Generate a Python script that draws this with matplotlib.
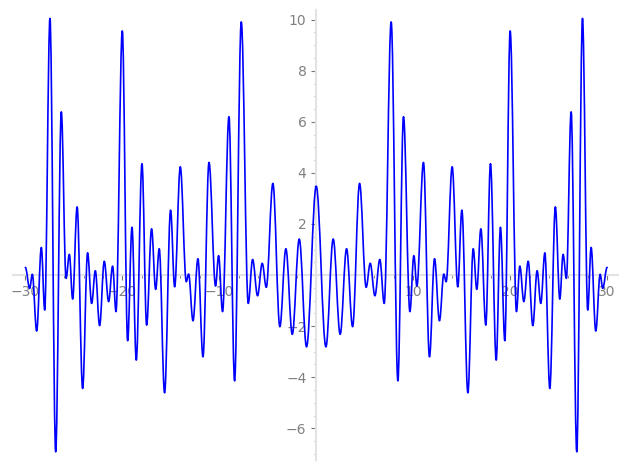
import numpy as np
import matplotlib
matplotlib.use("Agg")
import matplotlib.pyplot as plt
from matplotlib.path import Path
from matplotlib.patches import PathPatch
from matplotlib.ticker import MultipleLocator, FuncFormatter

# the curve is symmetric about x = 0
x_right = [0.0, 1.0, 1.75, 2.47, 3.13, 3.75, 4.47,
           5.15, 5.57, 6.05, 6.56, 7.01, 7.73, 8.42, 9.0, 9.66, 10.07,
           10.38, 11.06, 11.68, 12.2, 12.71, 13.16, 13.4, 14.02, 14.6, 15.02,
           15.64, 16.19, 16.56, 16.98, 17.49, 17.97, 18.56, 19.0, 19.45, 20.0,
           20.65, 21.0, 21.41, 21.86, 22.34, 22.78, 23.16, 23.58, 24.09, 24.66,
           25.12, 25.46, 25.8, 26.29, 26.87, 27.46, 28.0, 28.35, 28.83, 29.28,
           29.55, 30.0]
y_right = [3.48, -2.81, 1.41, -2.32, 1.03, -2.02, 3.59,
           -0.48, 0.46, -0.81, 0.61, -1.11, 9.91, -4.14, 6.2, -1.43, 0.76,
           -0.43, 4.41, -3.2, 0.64, -1.79, 0.04, -0.26, 4.24, -0.46, 2.54,
           -4.61, 1.03, -0.56, 1.81, -1.96, 4.36, -3.33, 1.87, -2.57, 9.56,
           -1.43, 0.35, -1.04, 0.54, -1.98, 0.17, -1.11, 0.87, -4.44, 2.67,
           -0.94, 0.81, -0.13, 6.39, -6.92, 10.05, -1.37, 1.08, -2.19, 0.03,
           -0.52, 0.3]

xr = np.array(x_right)
yr = np.array(y_right)
xs = np.concatenate([-xr[::-1], xr[1:]])
ys = np.concatenate([yr[::-1], yr[1:]])

fig = plt.figure(figsize=(6.27, 4.70), dpi=100)
ax = fig.add_axes([0.0203, 0.0213, 0.965, 0.957])

# smooth line through the extrema: cubic segments with flat tangents at each turn
k = 0.364
verts = [(xs[0], ys[0])]
codes = [Path.MOVETO]
for i in range(len(xs) - 1):
    dx = xs[i + 1] - xs[i]
    verts += [(xs[i] + k * dx, ys[i]), (xs[i + 1] - k * dx, ys[i + 1]), (xs[i + 1], ys[i + 1])]
    codes += [Path.CURVE4] * 3
ax.add_patch(PathPatch(Path(verts, codes), fill=False, edgecolor="#0000ff",
                       lw=1.2, zorder=3, capstyle="round", joinstyle="round"))

ax.set_xlim(-31.3, 31.1)
ax.set_ylim(-7.24, 10.37)

for s in ("top", "right"):
    ax.spines[s].set_visible(False)
for s in ("left", "bottom"):
    ax.spines[s].set_position(("data", 0))
    ax.spines[s].set_color("#e3e3e3")
    ax.spines[s].set_linewidth(1.5)

ax.xaxis.set_major_locator(MultipleLocator(10))
ax.xaxis.set_minor_locator(MultipleLocator(2))
ax.yaxis.set_major_locator(MultipleLocator(2))
ax.yaxis.set_minor_locator(MultipleLocator(0.5))

hide_zero = FuncFormatter(lambda v, p: "" if abs(v) < 1e-9 else f"{v:g}".replace("-", "\u2212"))
ax.xaxis.set_major_formatter(hide_zero)
ax.yaxis.set_major_formatter(hide_zero)

ax.tick_params(which="major", length=3.5, width=0.8, color="#777777",
               labelcolor="#808080", labelsize=10, direction="out", pad=3.5)
ax.tick_params(which="minor", length=1.8, width=0.6, color="#777777", direction="out")

fig.savefig("out.png", dpi=100)
